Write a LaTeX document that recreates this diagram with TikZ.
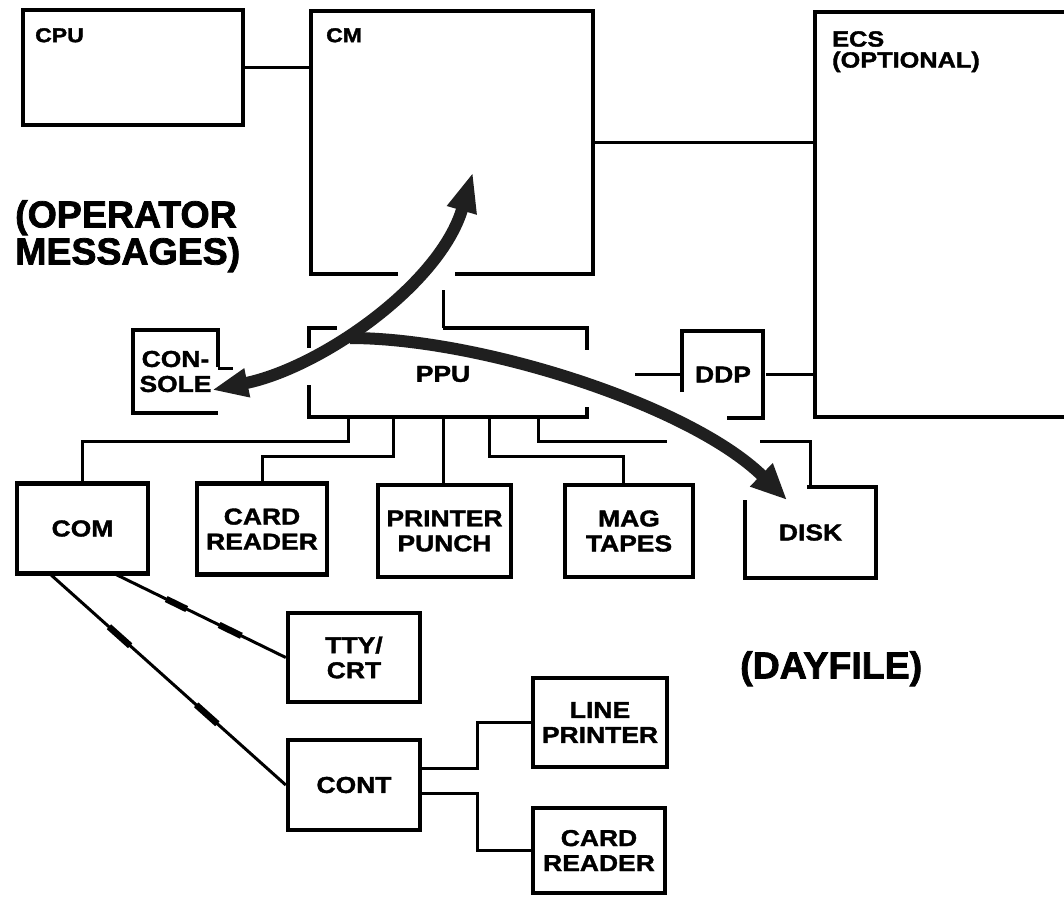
\documentclass[tikz,border=0pt]{standalone}
\usepackage{fontspec}
\setmainfont{Liberation Sans}
\newfontfamily\lblfont{Liberation Sans}[FakeStretch=1.15,FakeBold=1.6]
\newfontfamily\bigfont{Liberation Sans}[FakeBold=2]
\usetikzlibrary{arrows.meta,calc}
\begin{document}
\begin{tikzpicture}[x=1pt,y=-1pt,
  every node/.style={inner sep=0pt},
  unit/.style={draw=black, line width=4.5pt, outer sep=2.25pt, rectangle},
  ghost/.style={rectangle, outer sep=2.25pt},
  outline/.style={draw=black, line width=4.5pt, line join=miter},
  conn/.style={draw=black, line width=3pt},
  linkmark/.style={draw=black, line width=6.5pt},
  flow/.style={draw=black!88, line width=12pt},
  smalllbl/.style={font=\lblfont\bfseries\fontsize{20}{20}\selectfont, align=left},
  lbl/.style={font=\lblfont\bfseries\fontsize{23}{25}\selectfont, align=center},
  big/.style={font=\bigfont\bfseries\fontsize{37.5}{37}\selectfont, align=left}
]
\useasboundingbox (0,0) rectangle (1064,897);
\fill[white] (0,0) rectangle (1064,897);

% ---- top row
\node[unit, minimum width=220, minimum height=115] (cpu) at (133,67.5) {};
\node[smalllbl, anchor=north west] (cpulbl) at (35,28) {CPU};
\node[ghost, minimum width=282, minimum height=263] (cm) at (452,142.5) {};
\node[smalllbl, anchor=north west] (cmlbl) at (326,28) {CM};
\draw[outline] (398,274) -- (311,274) -- (311,11) -- (593,11) -- (593,274) -- (455,274);
\node[unit, minimum width=290, minimum height=405] (ecs) at (960,214.5) {};
\node[smalllbl, anchor=north west, font=\lblfont\bfseries\fontsize{22}{21}\selectfont] (ecslbl) at (832,31) {ECS\\(OPTIONAL)};

\draw[conn] (cpu.east) -- (cpu.east -| cm.west);
\draw[conn] (cm.east) -- (cm.east -| ecs.west);

% ---- free labels
\node[big, anchor=north west] (opmsg) at (15,200) {(OPERATOR\\MESSAGES)};
\node[big, anchor=north west] (dayfile) at (740,651) {(DAYFILE)};

% ---- console
\node[ghost, lbl, minimum width=85, minimum height=83] (console) at (175.5,371.5) {CON-\\SOLE};
\draw[outline] (218,367) -- (218,330) -- (133,330) -- (133,413) -- (218,413);
\coordinate (contick) at (218,368);
\draw[conn] (contick) -- ++(15,0);

% ---- PPU
\node[ghost, minimum width=278, minimum height=89] (ppu) at (448,372.5) {};
\node[lbl] (ppulbl) at (443,374) {PPU};
\draw[outline] (337,328) -- (309,328) -- (309,348);
\draw[outline] (309,385) -- (309,417) -- (587,417) -- (587,407);
\draw[outline] (443,328) -- (587,328) -- (587,350);
\coordinate (cmdrop) at (443,290);
\coordinate (ppuin) at (443,328);
\draw[conn] (cmdrop) -- (ppuin);

% ---- DDP
\node[ghost, lbl, minimum width=81, minimum height=87] (ddp) at (723,374.5) {DDP};
\draw[outline] (682,392) -- (682,331) -- (763,331) -- (763,418) -- (727,418);
\draw[conn] (ddp.west) -- ++(-45,0);
\draw[conn] (ddp.east) -- (ddp.east -| ecs.west);

% ---- peripheral row
\node[unit, lbl, minimum width=131, minimum height=90] (com) at (82.5,528.5) {COM};
\node[unit, lbl, minimum width=130, minimum height=91] (cr1) at (262,529) {CARD\\READER};
\node[unit, lbl, minimum width=133, minimum height=92] (pp) at (444.5,531) {PRINTER\\PUNCH};
\node[unit, lbl, minimum width=128, minimum height=92] (mt) at (629,531) {MAG\\TAPES};
\node[ghost, lbl, minimum width=131, minimum height=91] (disk) at (810.5,532.5) {DISK};
\draw[outline] (745,500) -- (745,578) -- (876,578) -- (876,487) -- (807,487);

\coordinate (p1) at (348,417);
\coordinate (p2) at (393,417);
\coordinate (p3) at (443,417);
\coordinate (p4) at (489,417);
\coordinate (p5) at (538,417);
\coordinate (d1) at (760,441);
\draw[conn] (p1) -- ++(0,24) -| (com.north);
\draw[conn] (p2) -- ++(0,39) -| (cr1.north);
\draw[conn] (p3) -- (p3 |- pp.north);
\draw[conn] (p4) -- ++(0,39) -| ($(mt.north)+(-6,0)$);
\draw[conn] (p5) -- ++(0,24) -- ++(129,0);
\draw[conn] (d1) -| (disk.north);

% ---- communications
\node[unit, lbl, minimum width=132, minimum height=89] (tty) at (354,657.5) {TTY/\\CRT};
\node[unit, lbl, minimum width=132, minimum height=90] (cont) at (354,785) {CONT};
\node[unit, lbl, minimum width=134, minimum height=89] (lp) at (600,722.5) {LINE\\PRINTER};
\node[unit, lbl, minimum width=132, minimum height=85] (cr2) at (599,850.5) {CARD\\READER};

\coordinate (c1) at (115,574);
\coordinate (c2) at (50,574);
\draw[conn] (c1) -- (tty.west);
\draw[linkmark] ($(c1)!0.30!(tty.west)$) -- ($(c1)!0.42!(tty.west)$);
\draw[linkmark] ($(c1)!0.61!(tty.west)$) -- ($(c1)!0.74!(tty.west)$);
\draw[conn] (c2) -- (cont.west);
\draw[linkmark] ($(c2)!0.25!(cont.west)$) -- ($(c2)!0.34!(cont.west)$);
\draw[linkmark] ($(c2)!0.62!(cont.west)$) -- ($(c2)!0.71!(cont.west)$);

\draw[conn] ($(cont.east)+(0,-17)$) -- ++(55,0) |- (lp.west);
\draw[conn] ($(cont.east)+(0,8)$) -- ++(55,0) |- (cr2.west);

% ---- message flow arrows
\coordinate (aCon) at (212,390);
\coordinate (aCM) at (473,172);
\coordinate (aSplit) at (350,338);
\coordinate (aDisk) at (787,500);
\draw[flow, {Triangle[length=36pt,width=27pt]}-{Triangle[length=40pt,width=28pt]}]
  (aCon) .. controls (320,368) and (440,285) .. (aCM);
\draw[flow, -{Triangle[length=36pt,width=30pt]}]
  (aSplit) .. controls (480,338) and (690,405) .. (aDisk);
\end{tikzpicture}
\end{document}
